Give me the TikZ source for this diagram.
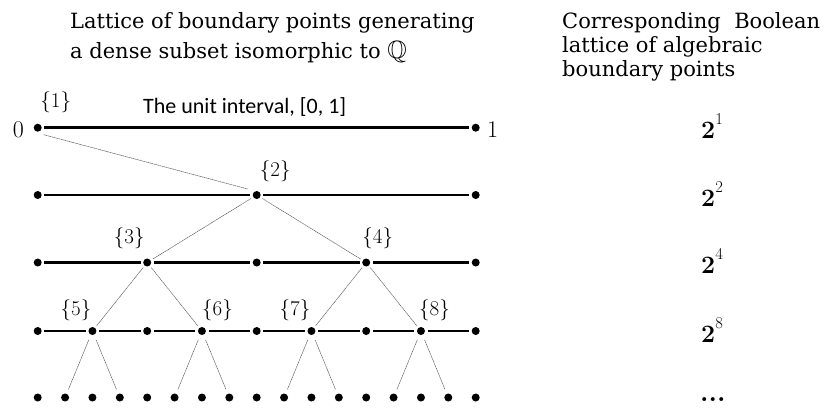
\documentclass[tikz,border=0pt]{standalone}
\usepackage{amssymb}
\usepackage{fontspec}
\newfontfamily\unitfont{Carlito}
\newfontfamily\ttlfont{DejaVu Serif}
\usetikzlibrary{calc}
\begin{document}
\begin{tikzpicture}[x=1pt,y=-1pt,
  dotn/.style={circle, fill=black, inner sep=0pt, minimum size=8pt, outer sep=2.6pt},
  seg/.style={line width=2.6pt},
  conn/.style={line width=0.5pt, black!65, dash pattern=on 1.5pt off 0.5pt},
  lab/.style={font=\fontsize{21}{21}\selectfont, inner sep=0pt},
  ttl/.style={font=\ttlfont\fontsize{21}{21}\selectfont, inner sep=0pt, anchor=base west},
  endlab/.style={font=\fontsize{24}{24}\selectfont, inner sep=0pt},
  pow/.style={font=\bfseries\fontsize{25}{25}\selectfont, inner sep=0pt, anchor=base west}
]
\useasboundingbox (0,0) rectangle (827,408);
% titles
\node[ttl] (t1a) at (70,28) {Lattice of boundary points generating};
\node[ttl] (t1b) at (70,58) {a dense subset isomorphic to {\fontsize{25}{25}\selectfont$\mathbb{Q}$}};
\node[ttl] (t2a) at (562,28) {Corresponding\ \ Boolean};
\node[ttl] (t2b) at (562,52) {lattice of algebraic};
\node[ttl] (t2c) at (562,76) {boundary points};
% dots
\foreach \row/\cnt/\yy in {1/1/127.7, 2/2/195, 3/4/262.5, 4/8/331, 5/16/397.5} {
  \foreach \i in {0,...,\cnt} {
    \node[dotn] (d\row-\i) at ({37.7+\i*438/\cnt},\yy) {};
  }
}
% horizontal segments
\foreach \row/\cnt in {1/1,2/2,3/4,4/8} {
  \pgfmathtruncatemacro{\last}{\cnt-1}
  \foreach \i in {0,...,\last} {
    \pgfmathtruncatemacro{\j}{\i+1}
    \draw[seg] (d\row-\i) -- (d\row-\j);
  }
}
% end labels
\node[endlab, anchor=base east] (zero) at (24,137) {0};
\node[endlab, anchor=base west] (one) at (487,137) {1};
\node[font=\unitfont\fontsize{22}{22}\selectfont, inner sep=0pt, anchor=base west] (ui) at (143,113) {The unit interval, [0, 1]};
% connectors
\draw[conn] ([shift={(6,7)}]d1-0.center) -- ([shift={(-9,-6)}]d2-1.center);
\draw[conn] (d2-1) -- (d3-1);
\draw[conn] (d2-1) -- (d3-3);
\draw[conn] (d3-1) -- (d4-1);
\draw[conn] (d3-1) -- (d4-3);
\draw[conn] (d3-3) -- (d4-5);
\draw[conn] (d3-3) -- (d4-7);
\foreach \a/\b/\c in {1/1/3, 3/5/7, 5/9/11, 7/13/15} {
  \draw[conn, shorten <=3pt, shorten >=2pt] (d4-\a) -- (d5-\b);
  \draw[conn, shorten <=3pt, shorten >=2pt] (d4-\a) -- (d5-\c);
}
% node labels
\node[lab, anchor=south west] (l1) at ([shift={(2.5,-15)}]d1-0.center) {\{1\}};
\node[lab, anchor=south west] (l2) at ([shift={(3,-13)}]d2-1.center) {\{2\}};
\node[lab, anchor=south east] (l3) at ([shift={(-2.5,-14)}]d3-1.center) {\{3\}};
\node[lab, anchor=south west] (l4) at ([shift={(-4,-14)}]d3-3.center) {\{4\}};
\node[lab, anchor=south east] (l5) at ([shift={(-1,-10)}]d4-1.center) {\{5\}};
\node[lab, anchor=south west] (l6) at ([shift={(0,-10)}]d4-3.center) {\{6\}};
\node[lab, anchor=south east] (l7) at ([shift={(-1,-10)}]d4-5.center) {\{7\}};
\node[lab, anchor=south west] (l8) at ([shift={(-2,-10)}]d4-7.center) {\{8\}};
% Boolean powers
\foreach \yy/\e [count=\k] in {138.7/1, 206/2, 273.5/4, 342/8} {
  \node[pow] (p\k) at (701,\yy) {2\raisebox{14pt}{\mdseries\fontsize{16.5}{16.5}\selectfont \e}};
}
\node[pow, font=\bfseries\fontsize{27}{27}\selectfont] (pdots) at (700,401) {...};
\end{tikzpicture}
\end{document}
